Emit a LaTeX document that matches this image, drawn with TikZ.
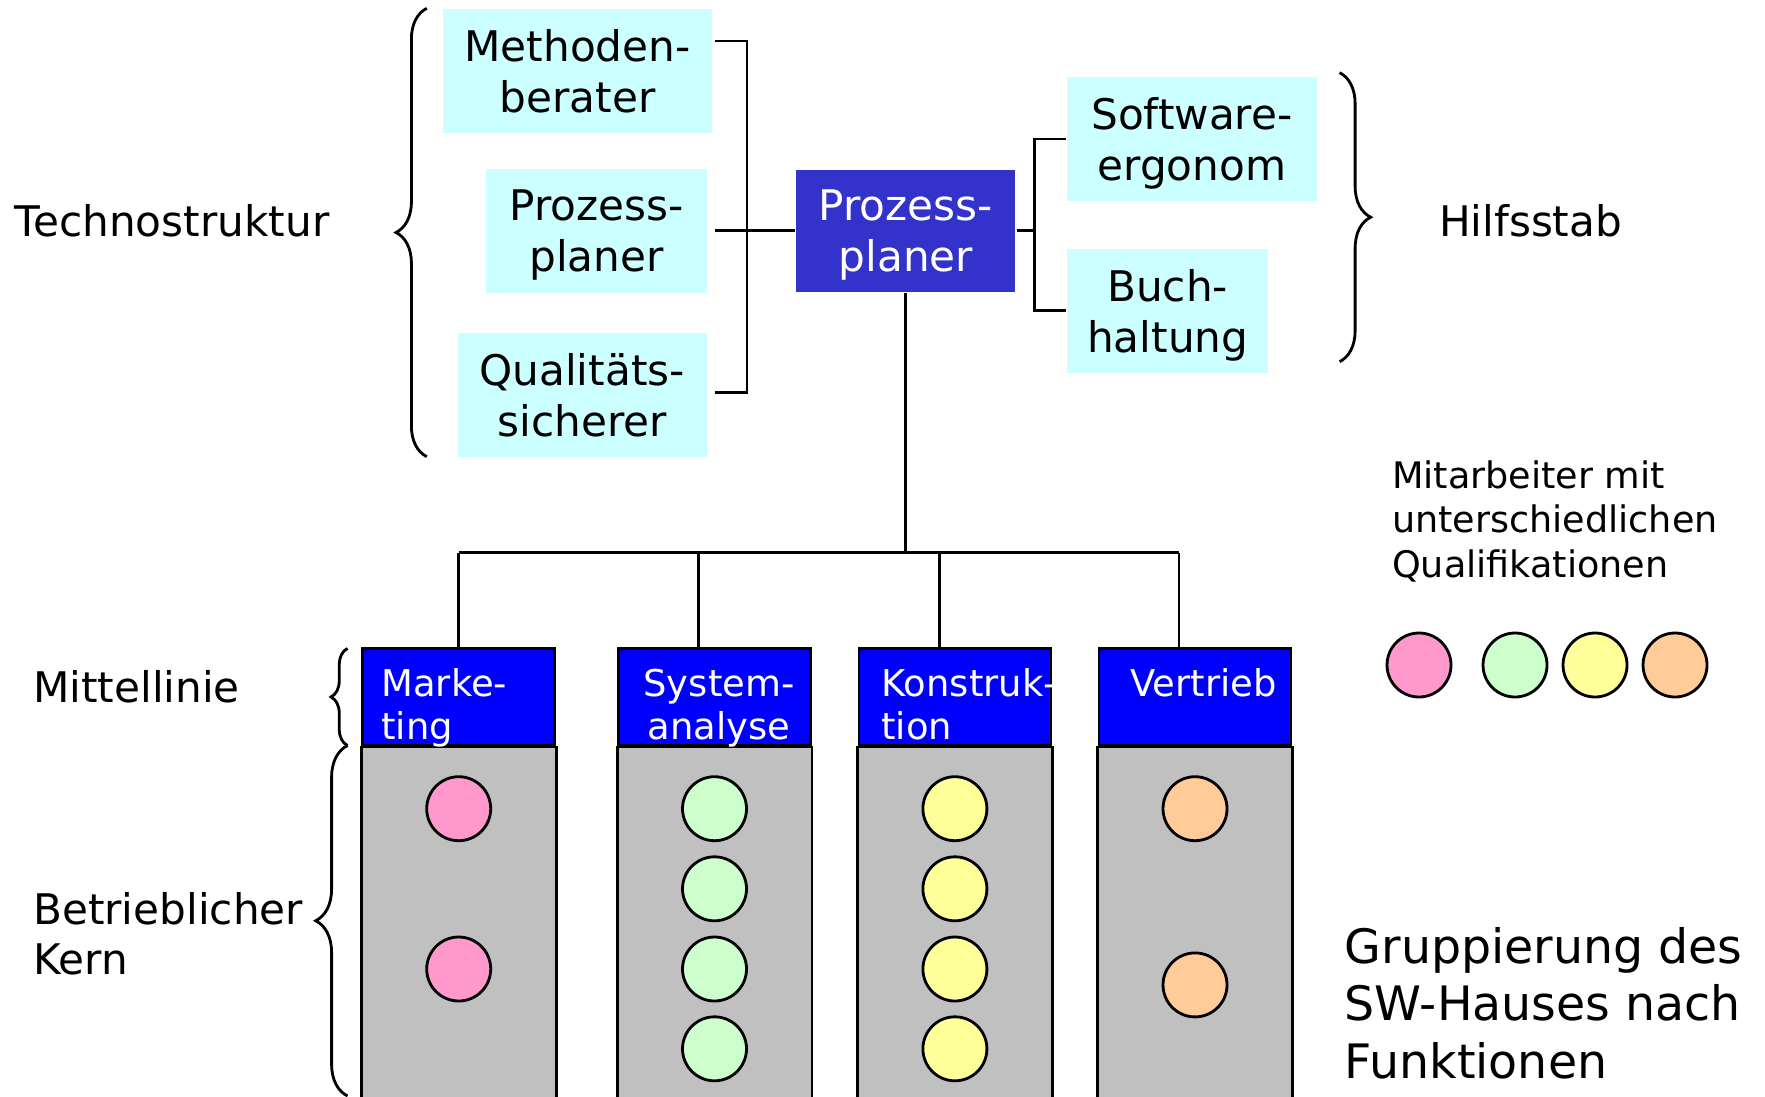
\documentclass[tikz,border=0pt]{standalone}
\usepackage{fontspec}
\setmainfont{DejaVu Sans}
\usetikzlibrary{decorations.pathreplacing}
\definecolor{stabcyan}{RGB}{204,255,255}
\definecolor{ppblue}{RGB}{51,51,204}
\definecolor{lineblue}{RGB}{0,0,255}
\definecolor{kerngray}{RGB}{192,192,192}
\definecolor{qpink}{RGB}{255,153,204}
\definecolor{qgreen}{RGB}{204,255,204}
\definecolor{qyellow}{RGB}{255,255,153}
\definecolor{qorange}{RGB}{255,204,153}
\tikzset{
  stabbox/.style={fill=stabcyan, align=center, inner sep=0pt, text depth=0pt, minimum height=1.237cm, font=\fontsize{12}{14.5}\selectfont},
  ppbox/.style={fill=ppblue, text=white, align=center, inner sep=0pt, text depth=0pt, minimum width=2.19cm, minimum height=1.223cm, font=\fontsize{12}{14.5}\selectfont},
  headbox/.style={draw=black, fill=lineblue, inner sep=0pt, minimum width=1.92cm, minimum height=0.97cm},
  headtext/.style={text=white, align=left, inner sep=0pt, font=\fontsize{10.5}{12.2}\selectfont},
  sidetext/.style={anchor=base west, align=left, inner sep=0pt, font=\fontsize{12}{14.4}\selectfont},
  person/.style={circle, draw=black, inner sep=0pt, minimum size=0.64cm, fill=#1},
  curly/.style={decorate, decoration={brace, amplitude=#1}}
}

\begin{document}
\begin{tikzpicture}[line width=0.8pt]
    \useasboundingbox (0,0) rectangle (17.65,10.96);
    \clip (0,0) rectangle (17.65,10.96);

    % Technostruktur
    \node[sidetext] (techno) at (0.133,8.593) {Technostruktur};
    \draw[curly=0.308cm] (4.268,6.393) -- (4.268,10.877);
    \node[stabbox, minimum width=2.684cm] (methoden) at (5.775,10.252) {Methoden-\\berater};
    \node[stabbox, minimum width=2.203cm] (prozess) at (5.964,8.652) {Prozess-\\planer};
    \node[stabbox, minimum width=2.489cm] (quali) at (5.821,7.012) {Qualitäts-\\sicherer};

    % Prozessplaner
    \node[ppbox] (pp) at (9.058,8.652) {Prozess-\\planer};
    \coordinate (btop) at (7.152,10.55);
    \coordinate (bbot) at (7.152,7.033);
    \draw (btop) -| ([xshift=0.317cm]bbot) -- (bbot);
    \draw (pp.west) -- (btop |- pp.west);

    % Hilfsstab
    \node[stabbox, minimum width=2.499cm] (software) at (11.919,9.57) {Software-\\ergonom};
    \node[stabbox, minimum width=2.015cm] (buch) at (11.677,7.852) {Buch-\\haltung};
    \coordinate (rbar) at (10.348,8.652);
    \draw (software.west) -- (software.west -| rbar) -- (buch.west -| rbar) -- (buch.west);
    \draw (pp.east) -- (pp.east -| rbar);
    \draw[curly=0.31cm] (13.396,10.233) -- (13.396,7.343);
    \node[sidetext] (hilfs) at (14.376,8.593) {Hilfsstab};

    % Mittellinie
    \node[headbox] (mkt) at (4.587,3.99) {};
    \node[headbox] (sys) at (7.145,3.99) {};
    \node[headbox] (kon) at (9.549,3.99) {};
    \node[headbox] (ver) at (11.95,3.99) {};
    \coordinate (bus) at (9.058,5.433);
    \coordinate (dsys) at ([xshift=-0.158cm]sys.north);
    \coordinate (dkon) at ([xshift=-0.156cm]kon.north);
    \coordinate (dver) at ([xshift=-0.16cm]ver.north);
    \draw (pp.south) -- (bus);
    \draw (mkt.north |- bus) -- (dver |- bus);
    \draw (mkt.north) -- (mkt.north |- bus);
    \draw (dsys) -- (dsys |- bus);
    \draw (dkon) -- (dkon |- bus);
    \draw (dver) -- (dver |- bus);

    % Betrieblicher Kern
    \draw[fill=kerngray] (mkt.south west) rectangle ([yshift=-4cm]mkt.south east);
    \draw[fill=kerngray] (sys.south west) rectangle ([yshift=-4cm]sys.south east);
    \draw[fill=kerngray] (kon.south west) rectangle ([yshift=-4cm]kon.south east);
    \draw[fill=kerngray] (ver.south west) rectangle ([yshift=-4cm]ver.south east);
    \node[headtext, anchor=base west] (mkttext) at (3.80,3.566) {Marke-\\ting};
    \node[headtext, anchor=base, align=center] (systext) at (7.19,3.566) {System-\\analyse};
    \node[headtext, anchor=base west] (kontext) at (8.80,3.566) {Konstruk-\\tion};
    \node[headtext, anchor=base west] (vertext) at (11.29,3.992) {Vertrieb};

    \node[person=qpink] (m1) at (4.587,2.873) {};
    \node[person=qpink] (m2) at (4.587,1.27) {};
    \node[person=qgreen] (s1) at (7.145,2.873) {};
    \node[person=qgreen] (s2) at (7.145,2.072) {};
    \node[person=qgreen] (s3) at (7.145,1.27) {};
    \node[person=qgreen] (s4) at (7.145,0.472) {};
    \node[person=qyellow] (k1) at (9.549,2.873) {};
    \node[person=qyellow] (k2) at (9.549,2.072) {};
    \node[person=qyellow] (k3) at (9.549,1.27) {};
    \node[person=qyellow] (k4) at (9.549,0.472) {};
    \node[person=qorange] (v1) at (11.95,2.873) {};
    \node[person=qorange] (v2) at (11.95,1.111) {};

    \node[sidetext] (mittel) at (0.318,3.938) {Mittellinie};
    \draw[curly=0.165cm] (3.475,3.505) -- (3.475,4.476);
    \node[sidetext] (kern) at (0.318,1.212) {Betrieblicher\\Kern};
    \draw[curly=0.318cm] (3.475,0) -- (3.475,3.505);

    % Legende
    \node[sidetext, font=\fontsize{10.4}{12.66}\selectfont] (legende) at (13.907,5.187) {Mitarbeiter mit\\unterschiedlichen\\Qualifikationen};
    \node[person=qpink] (l1) at (14.19,4.31) {};
    \node[person=qgreen] (l2) at (15.15,4.31) {};
    \node[person=qyellow] (l3) at (15.95,4.31) {};
    \node[person=qorange] (l4) at (16.75,4.31) {};

    \node[sidetext, font=\fontsize{13.5}{16.36}\selectfont] (gruppe) at (13.433,0.177) {Gruppierung des\\SW-Hauses nach\\Funktionen};
\end{tikzpicture}
\end{document}
